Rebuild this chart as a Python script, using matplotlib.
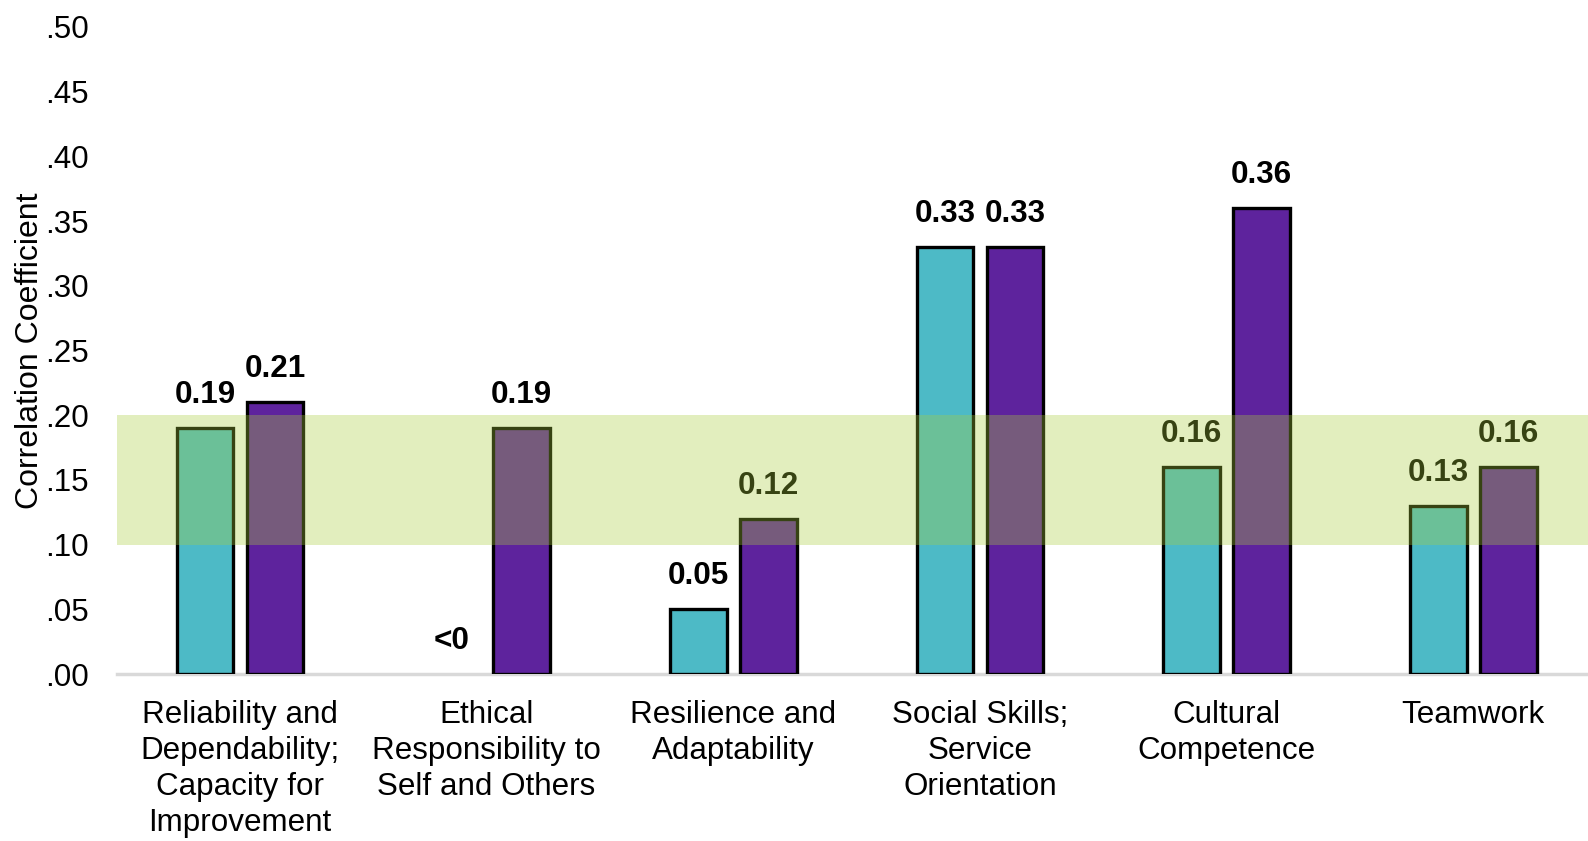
import matplotlib
matplotlib.use("Agg")
import matplotlib.pyplot as plt
import numpy as np

categories = [
    "Reliability and\nDependability;\nCapacity for\nImprovement",
    "Ethical\nResponsibility to\nSelf and Others",
    "Resilience and\nAdaptability",
    "Social Skills;\nService\nOrientation",
    "Cultural\nCompetence",
    "Teamwork",
]
series_a = [0.19, 0.0, 0.05, 0.33, 0.16, 0.13]
series_b = [0.21, 0.19, 0.12, 0.33, 0.36, 0.16]
labels_a = ["0.19", "<0", "0.05", "0.33", "0.16", "0.13"]
labels_b = ["0.21", "0.19", "0.12", "0.33", "0.36", "0.16"]
yticks = [0.0, 0.05, 0.10, 0.15, 0.20, 0.25, 0.30, 0.35, 0.40, 0.45, 0.50]
ytick_labels = [".00", ".05", ".10", ".15", ".20", ".25", ".30", ".35", ".40", ".45", ".50"]
band = (0.10, 0.20)

plt.rcParams["font.family"] = ["Liberation Sans", "DejaVu Sans"]
FS = 22.6

fig = plt.figure(figsize=(15.88, 8.41), dpi=100)
left_px = 116.6
ax = fig.add_axes([left_px / 1588, 1 - 674 / 841, 1480 / 1588, (674 - 27) / 841])

x = np.arange(len(categories))
w = 0.23
off = 0.142
teal = "#4DBAC6"
purple = "#5E239D"
ba = ax.bar(x - off, series_a, width=w, color=teal, edgecolor="black", linewidth=2.4, zorder=2)
bb = ax.bar(x + off, series_b, width=w, color=purple, edgecolor="black", linewidth=2.4, zorder=2)
for rect in list(ba) + list(bb):
    if rect.get_height() <= 0:
        rect.set_visible(False)

for xi, v, lab in zip(x - off, series_a, labels_a):
    ax.annotate(lab, (xi, v), xytext=(0, 13), textcoords="offset points",
                ha="center", va="bottom", fontsize=FS, fontweight="bold", color="black", zorder=3)
for xi, v, lab in zip(x + off, series_b, labels_b):
    ax.annotate(lab, (xi, v), xytext=(0, 13), textcoords="offset points",
                ha="center", va="bottom", fontsize=FS, fontweight="bold", color="black", zorder=3)

ax.axhspan(band[0], band[1], color="#A9CE3B", alpha=0.33, linewidth=0, zorder=5)

ax.set_xlim(-0.5, len(categories) - 0.5)
ax.set_ylim(0, 0.50)
ax.set_yticks(yticks)
ax.set_yticklabels(ytick_labels, fontsize=FS)
ax.set_xticks(x)
ax.set_xticklabels(categories, fontsize=FS, linespacing=1.25)
ax.tick_params(axis="both", length=0)
ax.tick_params(axis="y", pad=20)
ax.tick_params(axis="x", pad=19)

for s in ["top", "right", "left"]:
    ax.spines[s].set_visible(False)
ax.spines["bottom"].set_color("#D9D9D9")
ax.spines["bottom"].set_linewidth(2.5)
ax.spines["bottom"].set_zorder(1)

ax.set_ylabel("Correlation Coefficient", fontsize=23)
ax.yaxis.set_label_coords(-0.0487, 0.5)

fig.savefig("out.png", dpi=100)
